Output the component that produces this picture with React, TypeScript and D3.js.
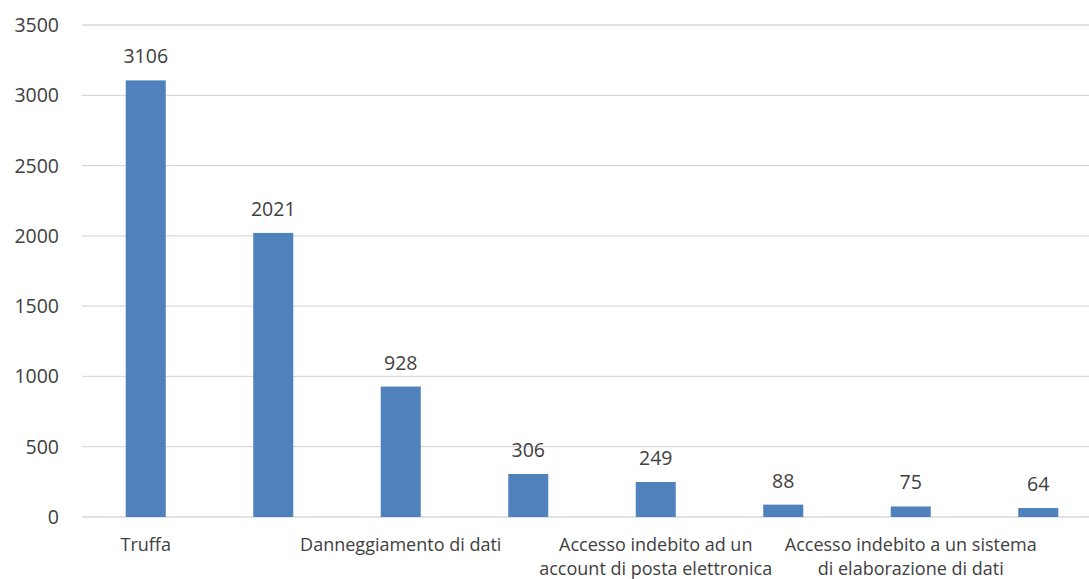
import React from "react";
import * as d3 from "d3";

const categories = [
  "Truffa",
  "",
  "Danneggiamento di dati",
  "",
  "Accesso indebito ad un|account di posta elettronica",
  "",
  "Accesso indebito a un sistema|di elaborazione di dati",
  "",
];
const values = [3106, 2021, 928, 306, 249, 88, 75, 64];
const yTicks = [0, 500, 1000, 1500, 2000, 2500, 3000, 3500];

const W = 1089;
const H = 579;
const margin = { left: 82, top: 25, bottom: 62 };
const plotRight = 1102;
const font = "'Open Sans', sans-serif";
const textColor = "#404040";

export default function App() {
  const x = d3
    .scaleBand<number>()
    .domain(values.map((_, i) => i))
    .range([margin.left, plotRight])
    .paddingInner(0.686)
    .paddingOuter(0.343);
  const y = d3.scaleLinear().domain([0, 3500]).range([H - margin.bottom, margin.top]);

  return (
    <svg
      width={W}
      height={H}
      style={{ position: "absolute", left: 0, top: 0, background: "#fff" }}
      fontFamily={font}
    >
      {yTicks.map((t) => (
        <g key={t}>
          <line x1={margin.left} x2={W} y1={y(t)} y2={y(t)} stroke="#d9d9d9" strokeWidth={1.3} />
          <text x={59} y={y(t)} dy="0.36em" textAnchor="end" fontSize={19.5} fill={textColor}>
            {t}
          </text>
        </g>
      ))}
      {values.map((v, i) => (
        <g key={i}>
          <rect
            x={x(i)}
            y={y(v)}
            width={x.bandwidth()}
            height={y(0) - y(v)}
            fill="#4f81bd"
          />
          <text
            x={(x(i) as number) + x.bandwidth() / 2}
            y={y(v) - 17}
            textAnchor="middle"
            fontSize={19.5}
            fill={textColor}
          >
            {v}
          </text>
        </g>
      ))}
      {categories.map((c, i) =>
        c ? (
          <text
            key={i}
            x={(x(i) as number) + x.bandwidth() / 2}
            y={551}
            textAnchor="middle"
            fontSize={18}
            fill={textColor}
          >
            {c.split("|").map((line, j) => (
              <tspan key={j} x={(x(i) as number) + x.bandwidth() / 2} dy={j === 0 ? 0 : 24}>
                {line}
              </tspan>
            ))}
          </text>
        ) : null
      )}
    </svg>
  );
}
